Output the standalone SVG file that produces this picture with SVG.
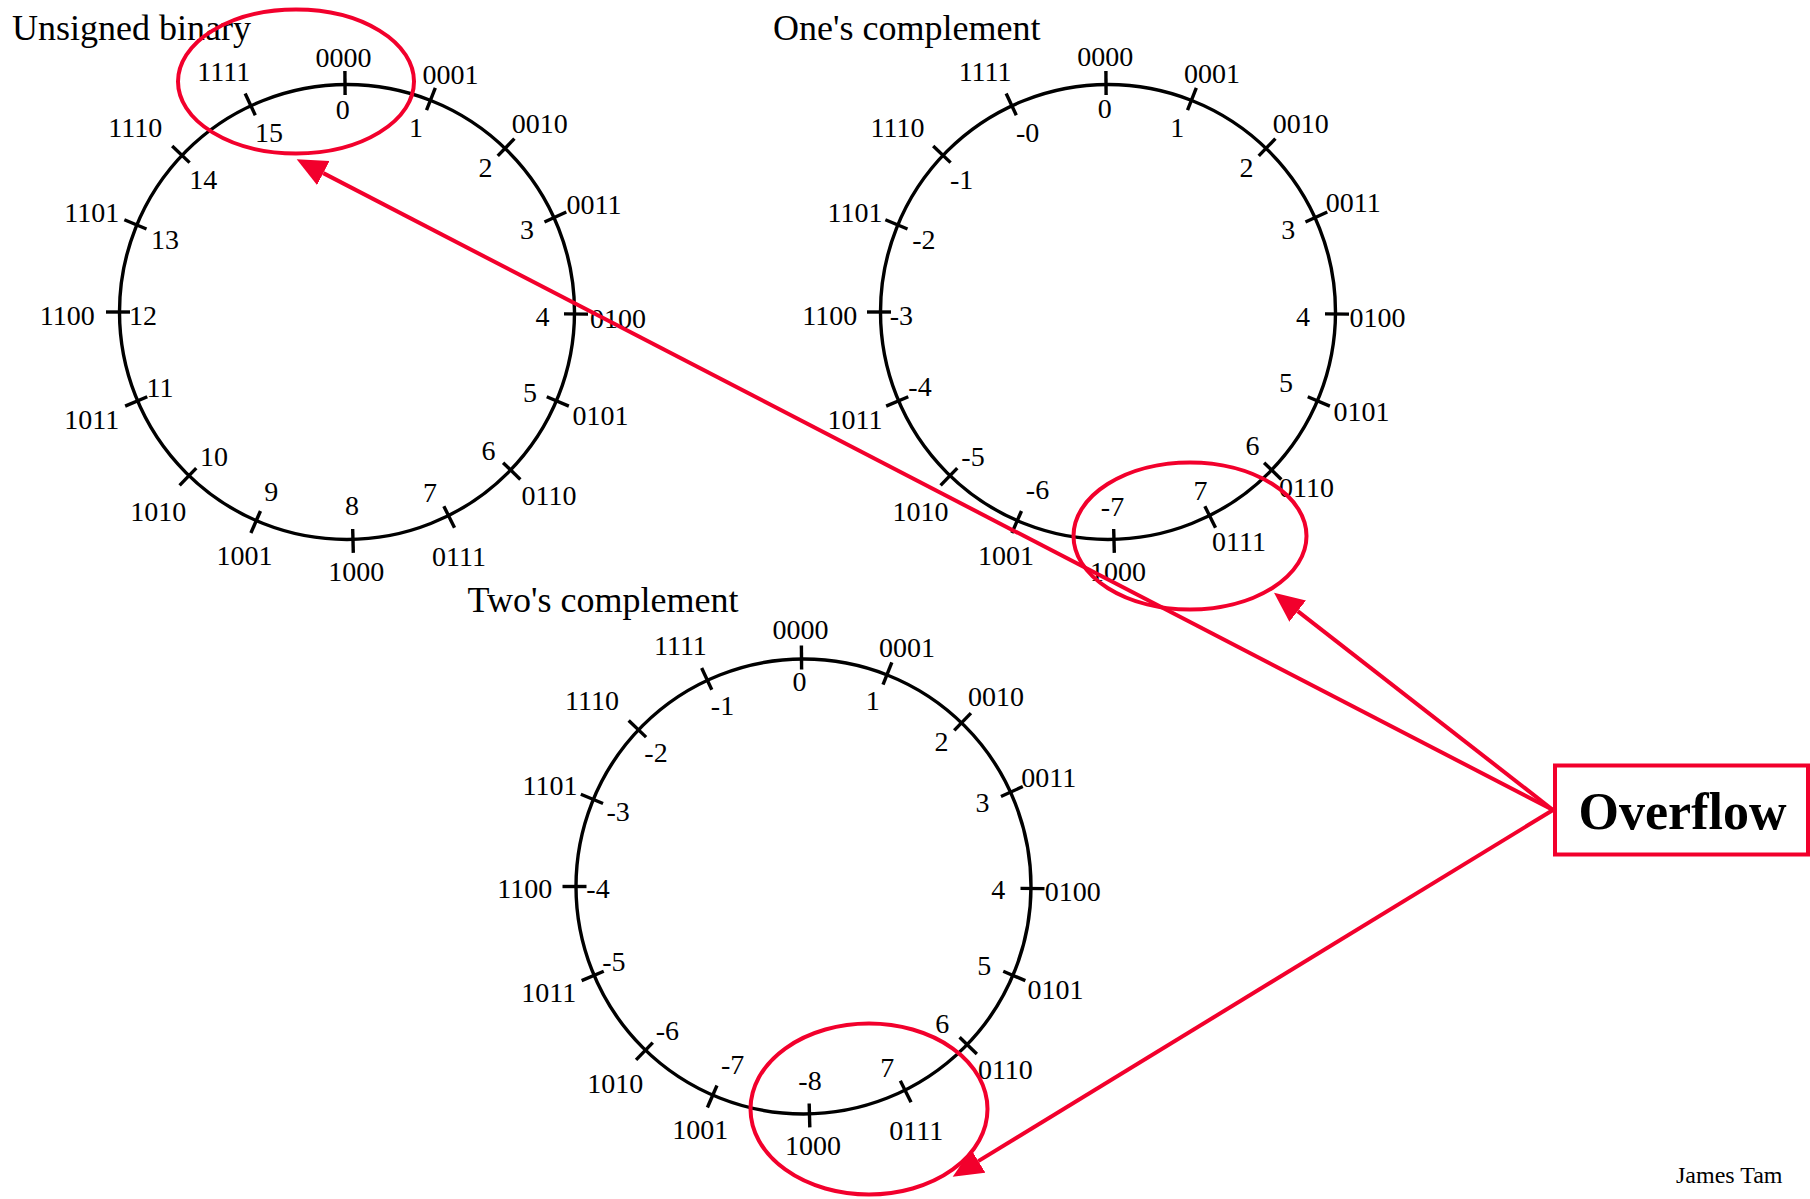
<svg xmlns="http://www.w3.org/2000/svg" xmlns:xlink="http://www.w3.org/1999/xlink" width="1810" height="1199" viewBox="0 0 1810 1199">
<style>
.t{font-family:"Liberation Serif","Times New Roman",serif;font-size:28px;fill:#000;text-anchor:middle}
.title{font-family:"Liberation Serif","Times New Roman",serif;font-size:36px;fill:#000}
.ring{fill:none;stroke:#000;stroke-width:3.4}
.tick{stroke:#000;stroke-width:3.4}
.red{fill:none;stroke:#f2002c;stroke-width:4}
</style>
<defs>
<g id="dial">
<circle class="ring" r="227.5"/>
<g class="tick">
<line y1="-217" y2="-241" transform="rotate(-0.5)"/>
<line y1="-217" y2="-241" transform="rotate(21.5)"/>
<line y1="-217" y2="-241" transform="rotate(44)"/>
<line y1="-217" y2="-241" transform="rotate(65.5)"/>
<line y1="-217" y2="-241" transform="rotate(90.5)"/>
<line y1="-217" y2="-241" transform="rotate(113)"/>
<line y1="-217" y2="-241" transform="rotate(134)"/>
<line y1="-217" y2="-241" transform="rotate(153.5)"/>
<line y1="-217" y2="-241" transform="rotate(178.5)"/>
<line y1="-217" y2="-241" transform="rotate(203.5)"/>
<line y1="-217" y2="-241" transform="rotate(224)"/>
<line y1="-217" y2="-241" transform="rotate(247)"/>
<line y1="-217" y2="-241" transform="rotate(270)"/>
<line y1="-217" y2="-241" transform="rotate(292.5)"/>
<line y1="-217" y2="-241" transform="rotate(313.5)"/>
<line y1="-217" y2="-241" transform="rotate(335)"/>
</g>
</g>
<marker id="ah" markerUnits="userSpaceOnUse" markerWidth="31" markerHeight="28" refX="0" refY="13.5" orient="auto">
<path d="M0,0 L30,13.5 L0,27 z" fill="#f2002c"/>
</marker>
</defs>
<rect width="1810" height="1199" fill="#fff"/>

<g id="unsigned-binary">
<text class="title" x="12" y="40">Unsigned binary</text>
<use xlink:href="#dial" href="#dial" transform="translate(347,312)"/>
<text class="t" x="343.5" y="66.5">0000</text>
<text class="t" x="450.4" y="84.2">0001</text>
<text class="t" x="539.8" y="132.8">0010</text>
<text class="t" x="594" y="213.5">0011</text>
<text class="t" x="618" y="327.5">0100</text>
<text class="t" x="600.6" y="425">0101</text>
<text class="t" x="549" y="505">0110</text>
<text class="t" x="459" y="565.6">0111</text>
<text class="t" x="356.3" y="581">1000</text>
<text class="t" x="244.4" y="564.5">1001</text>
<text class="t" x="158.2" y="520.5">1010</text>
<text class="t" x="91.7" y="429.4">1011</text>
<text class="t" x="67.2" y="324.5">1100</text>
<text class="t" x="91.7" y="222">1101</text>
<text class="t" x="135.2" y="137">1110</text>
<text class="t" x="223.8" y="81.4">1111</text>
<text class="t" x="342.8" y="118.5">0</text>
<text class="t" x="416" y="137">1</text>
<text class="t" x="485.5" y="176.8">2</text>
<text class="t" x="527" y="239">3</text>
<text class="t" x="542.5" y="326">4</text>
<text class="t" x="530" y="401.6">5</text>
<text class="t" x="488.5" y="460">6</text>
<text class="t" x="430" y="502">7</text>
<text class="t" x="352" y="514.7">8</text>
<text class="t" x="271.3" y="500.6">9</text>
<text class="t" x="214" y="466">10</text>
<text class="t" x="160" y="397.2">11</text>
<text class="t" x="143" y="324.5">12</text>
<text class="t" x="165" y="248.8">13</text>
<text class="t" x="203.2" y="189.4">14</text>
<text class="t" x="268.9" y="142">15</text>
</g>

<g id="ones-complement">
<text class="title" x="773" y="40">One's complement</text>
<use xlink:href="#dial" href="#dial" transform="translate(1108,312)"/>
<text class="t" x="1105.2" y="66.2">0000</text>
<text class="t" x="1211.9" y="83.4">0001</text>
<text class="t" x="1300.8" y="132.5">0010</text>
<text class="t" x="1353.2" y="212.4">0011</text>
<text class="t" x="1377.5" y="326.5">0100</text>
<text class="t" x="1361.5" y="421">0101</text>
<text class="t" x="1306.5" y="496.7">0110</text>
<text class="t" x="1239" y="551">0111</text>
<text class="t" x="1118" y="581">1000</text>
<text class="t" x="1005.9" y="564.5">1001</text>
<text class="t" x="920.4" y="520.5">1010</text>
<text class="t" x="855" y="428.6">1011</text>
<text class="t" x="829.8" y="324.5">1100</text>
<text class="t" x="855" y="222">1101</text>
<text class="t" x="897.5" y="137">1110</text>
<text class="t" x="985.1" y="81.1">1111</text>
<text class="t" x="1104.8" y="117.9">0</text>
<text class="t" x="1177.2" y="137">1</text>
<text class="t" x="1246.6" y="176.8">2</text>
<text class="t" x="1288.2" y="239.2">3</text>
<text class="t" x="1303" y="326">4</text>
<text class="t" x="1286" y="392.3">5</text>
<text class="t" x="1252.5" y="455.2">6</text>
<text class="t" x="1200.5" y="500">7</text>
<text class="t" x="1112.5" y="516.3">-7</text>
<text class="t" x="1037.5" y="499.4">-6</text>
<text class="t" x="973" y="466">-5</text>
<text class="t" x="920" y="396">-4</text>
<text class="t" x="901.4" y="324.5">-3</text>
<text class="t" x="923.9" y="248.8">-2</text>
<text class="t" x="961.6" y="189.4">-1</text>
<text class="t" x="1027.6" y="141.6">-0</text>
</g>

<g id="twos-complement">
<text class="title" x="467.5" y="611.6">Two's complement</text>
<use xlink:href="#dial" href="#dial" transform="translate(803.5,886.5)"/>
<text class="t" x="800.4" y="639.2">0000</text>
<text class="t" x="906.9" y="657">0001</text>
<text class="t" x="996.1" y="705.5">0010</text>
<text class="t" x="1048.7" y="787.3">0011</text>
<text class="t" x="1072.7" y="900.6">0100</text>
<text class="t" x="1055.4" y="998.5">0101</text>
<text class="t" x="1005.4" y="1079.4">0110</text>
<text class="t" x="916.2" y="1140">0111</text>
<text class="t" x="813" y="1155">1000</text>
<text class="t" x="700.2" y="1138.6">1001</text>
<text class="t" x="615.2" y="1093.2">1010</text>
<text class="t" x="548.7" y="1002.4">1011</text>
<text class="t" x="524.7" y="897.8">1100</text>
<text class="t" x="550" y="795.2">1101</text>
<text class="t" x="592" y="710.3">1110</text>
<text class="t" x="680.4" y="655">1111</text>
<text class="t" x="799.5" y="691.3">0</text>
<text class="t" x="872.8" y="710.3">1</text>
<text class="t" x="941.4" y="750.5">2</text>
<text class="t" x="982.6" y="812.1">3</text>
<text class="t" x="998.2" y="899">4</text>
<text class="t" x="984.3" y="974.8">5</text>
<text class="t" x="942.3" y="1033.3">6</text>
<text class="t" x="887.2" y="1077">7</text>
<text class="t" x="810" y="1090">-8</text>
<text class="t" x="732.6" y="1073.5">-7</text>
<text class="t" x="667.4" y="1039.9">-6</text>
<text class="t" x="613.9" y="970.8">-5</text>
<text class="t" x="598" y="897.8">-4</text>
<text class="t" x="618.1" y="820.8">-3</text>
<text class="t" x="656" y="762.4">-2</text>
<text class="t" x="722.5" y="715">-1</text>
</g>

<g id="overflow-regions">
<ellipse id="ring-unsigned" class="red" cx="296" cy="81.5" rx="118" ry="72"/>
<ellipse id="ring-ones" class="red" cx="1190" cy="536" rx="116.5" ry="73.5"/>
<ellipse id="ring-twos" class="red" cx="869" cy="1109" rx="118.5" ry="85.5"/>
</g>

<g id="connectors">
<line class="red" x1="1553" y1="810" x2="323.3" y2="173.1" marker-end="url(#ah)"/>
<line class="red" x1="1553" y1="810" x2="1297.7" y2="611.1" marker-end="url(#ah)"/>
<line class="red" x1="1553" y1="810" x2="978.3" y2="1161.1" marker-end="url(#ah)"/>
</g>

<g id="overflow">
<rect x="1555" y="765.5" width="253" height="89" fill="#fff" stroke="#f2002c" stroke-width="4"/>
<text x="1682.5" y="829" font-family="Liberation Serif, Times New Roman, serif" font-size="52" font-weight="bold" text-anchor="middle" fill="#000">Overflow</text>
</g>

<g id="credit">
<text x="1676" y="1183.3" font-family="Liberation Serif, Times New Roman, serif" font-size="24" fill="#000">James Tam</text>
</g>
</svg>
